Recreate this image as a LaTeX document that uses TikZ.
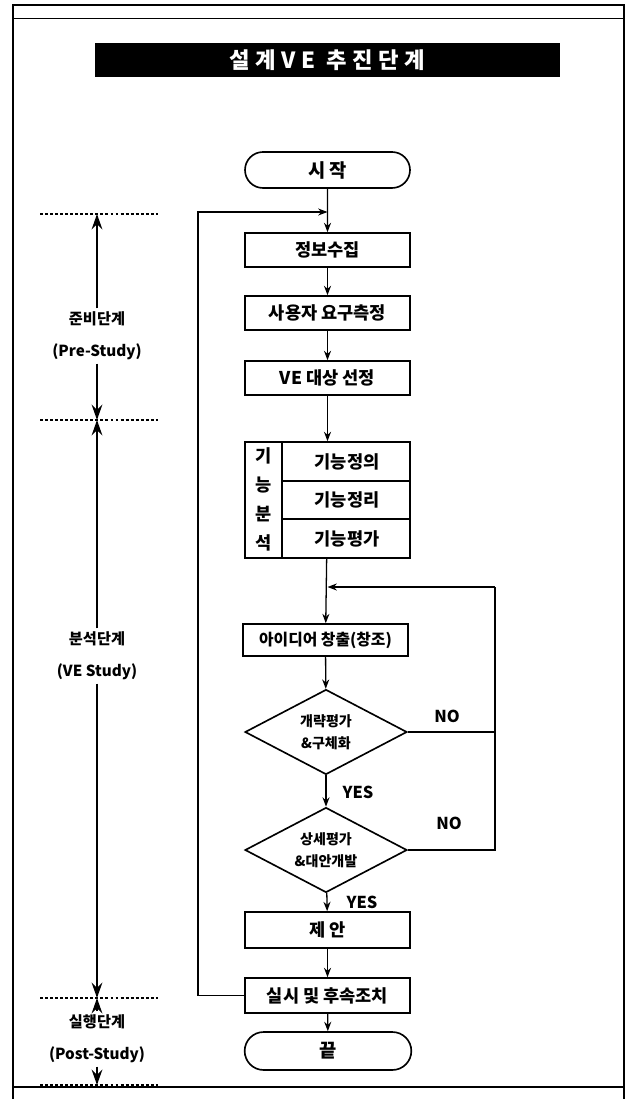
\documentclass[tikz,border=0pt]{standalone}
\usepackage{fontspec}
\setmainfont{Noto Sans CJK KR}
\usetikzlibrary{arrows.meta,shapes.geometric,shapes.misc}
\begin{document}
\begin{tikzpicture}[x=0.03cm,y=-0.03cm,
  box/.style={draw,line width=1.4pt,minimum width=4.95cm,minimum height=1.02cm,inner sep=0pt,font=\bfseries\fontsize{15}{17}\selectfont},
  term/.style={draw,line width=1.4pt,rounded rectangle,minimum width=4.95cm,minimum height=1.08cm,inner sep=0pt,font=\bfseries\fontsize{16}{18}\selectfont},
  dec/.style={draw,diamond,aspect=2,line width=1.4pt,minimum width=4.86cm,minimum height=2.55cm,inner sep=0pt,align=center,font=\bfseries\fontsize{12}{19}\selectfont},
  flow/.style={line width=1.1pt,-{Stealth[length=8pt,width=6pt]}},
  plain/.style={line width=1.1pt},
  big/.style={line width=2.2pt,-{Stealth[length=13pt,width=9pt]}},
  dots/.style={line width=1pt,dash pattern=on 2.5pt off 1.8pt},
  side/.style={align=center,inner sep=3pt,font=\bfseries\fontsize{13}{27}\selectfont},
  lab/.style={font=\bfseries\fontsize{14}{16}\selectfont},
  cell/.style={font=\bfseries\fontsize{15}{17}\selectfont}]

\useasboundingbox (0,0) rectangle (634,1099);

% frame
\draw[line width=1.2pt] (13,1099) -- (13,5) -- (624,5) -- (624,1099);
\draw[line width=0.8pt] (13,18) -- (624,18);
\draw[line width=1.2pt] (13,1087) -- (624,1087);

% title
\node[fill=black,text=white,minimum width=13.95cm,minimum height=1.02cm,inner sep=0pt,
      font=\bfseries\fontsize{19}{22}\selectfont\addfontfeature{LetterSpace=25}] (title) at (327.5,60) {설계VE 추진단계};

% flow nodes
\node[term] (start) at (327.5,170) {시 작};
\node[box] (info) at (327.5,250) {정보수집};
\node[box] (req) at (327.5,313) {사용자 요구측정};
\node[box] (ve) at (327.5,378) {VE 대상 선정};
\node[draw,line width=1.4pt,minimum width=4.95cm,minimum height=3.48cm,inner sep=0pt] (fn) at (327.5,500) {};
\draw[line width=1.4pt] (282,442) -- (282,558);
\draw[line width=1.4pt] (282,481) -- (410,481);
\draw[line width=1.4pt] (282,519) -- (410,519);
\node[cell] (f1) at (347,461.5) {기능정의};
\node[cell] (f2) at (347,500) {기능정리};
\node[cell] (f3) at (347,538.5) {기능평가};
\node[cell] (v1) at (263.5,456) {기};
\node[cell] (v2) at (263.5,485) {능};
\node[cell] (v3) at (263.5,514) {분};
\node[cell] (v4) at (263.5,543) {석};

\node[box,minimum height=0.96cm,font=\bfseries\fontsize{13.5}{16}\selectfont] (idea) at (325.5,640) {아이디어 창출(창조)};
\node[dec] (d1) at (326,732) {개략평가\\\&구체화};
\node[dec] (d2) at (326,850) {상세평가\\\&대안개발};
\node[box,minimum height=1.08cm] (prop) at (327.5,930) {제 안};
\node[box,minimum height=1.05cm] (impl) at (327.5,995.5) {실시 및 후속조치};
\node[term,minimum height=1.14cm,minimum width=5.0cm] (end) at (328,1051) {끝};

% connectors
\draw[flow] (start) -- (info);
\draw[flow] (info) -- (req);
\draw[flow] (req) -- (ve);
\draw[flow] (ve) -- (fn);
\draw[flow] (fn) -- (idea);
\draw[flow] (idea) -- (d1);
\draw[flow] (d1) -- (d2);
\draw[flow] (d2) -- (prop);
\draw[flow] (prop) -- (impl);
\draw[flow] (impl) -- (end);
\node[lab] (yes1) at (358,792) {YES};
\node[lab] (yes2) at (362,902) {YES};

\coordinate (m1) at (327.5,587);
\coordinate (r1) at (495,732);
\coordinate (r2) at (495,850);
\coordinate (r3) at (495,587);
\draw[plain] (d1.east) -- (r1);
\draw[plain] (d2.east) -- (r2) -- (r3);
\draw[flow] (r3) -- (m1);
\node[lab] (no1) at (447,716) {NO};
\node[lab] (no2) at (449,823) {NO};

\coordinate (l1) at (198,995.5);
\coordinate (l2) at (198,212);
\coordinate (l3) at (327.5,212);
\draw[flow] (impl.west) -- (l1) -- (l2) -- (l3);

% left stage column
\draw[dots] (40,214) -- (158,214);
\draw[dots] (40,420) -- (158,420);
\draw[dots] (40,998) -- (158,998);
\draw[dots] (40,1085) -- (158,1085);
\coordinate (t1) at (97,214);
\coordinate (t2) at (97,420);
\coordinate (t3) at (97,998);
\coordinate (t4) at (97,1085);

\node[side] (pre) at (97,336) {준비단계\\(Pre-Study)};
\node[side] (ana) at (97,656) {분석단계\\(VE Study)};
\node[side] (post) at (97,1039) {실행단계\\(Post-Study)};
\draw[big] (pre.north) -- (t1);
\draw[big] (pre.south) -- (t2);
\draw[big] (ana.north) -- (t2);
\draw[big] (ana.south) -- (t3);
\draw[big] (post.north) -- (t3);
\draw[big] (post.south) -- (t4);
\end{tikzpicture}
\end{document}
